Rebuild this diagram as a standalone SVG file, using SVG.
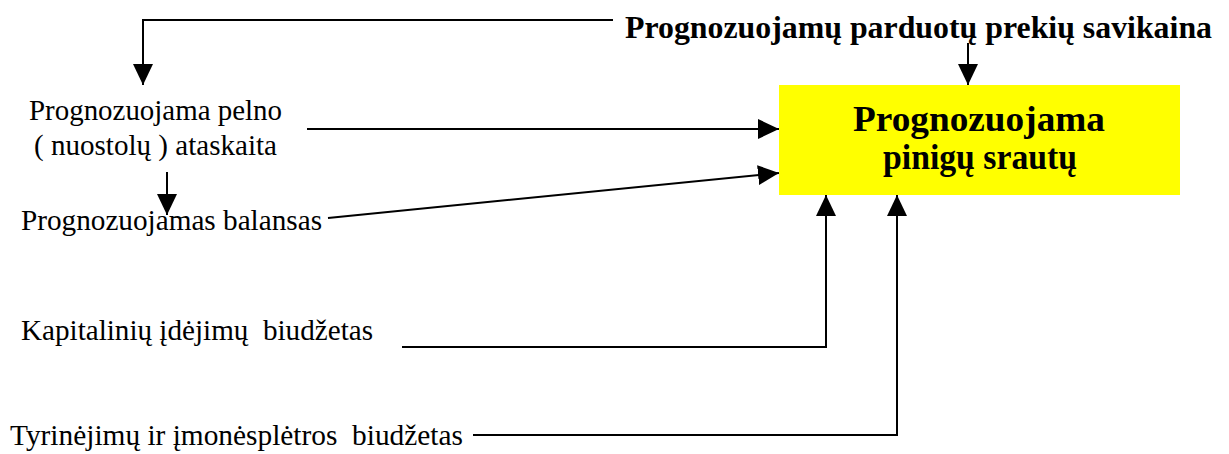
<svg xmlns="http://www.w3.org/2000/svg" width="1229" height="454" viewBox="0 0 1229 454">
  <style>
    text { font-family: 'Liberation Serif', Tinos, 'Nimbus Roman', 'Times New Roman', Times, serif; fill: #000; white-space: pre; }
    .lbl { font-size: 29px; }
    .bold { font-weight: bold; }
    .conn { fill: none; stroke: #000; stroke-width: 2; }
  </style>
  <defs>
    <marker id="arrow" viewBox="0 0 21 20" refX="21" refY="10" markerWidth="21" markerHeight="20" markerUnits="userSpaceOnUse" orient="auto">
      <path d="M0,0 L21,10 L0,20 z" fill="#000"/>
    </marker>
  </defs>

  <rect width="1229" height="454" fill="#fff"/>

  <!-- Central node: cash flow forecast -->
  <g id="node-cashflow">
    <rect x="779" y="85" width="401" height="110" fill="#ffff00"/>
    <text class="bold" x="979" y="131" font-size="36" text-anchor="middle" textLength="252" lengthAdjust="spacingAndGlyphs">Prognozuojama</text>
    <text class="bold" x="980" y="169" font-size="36" text-anchor="middle" textLength="194" lengthAdjust="spacingAndGlyphs">pinigų srautų</text>
  </g>

  <!-- Input nodes -->
  <g id="node-cogs">
    <text class="bold" x="625" y="38" font-size="31" textLength="587" lengthAdjust="spacingAndGlyphs">Prognozuojamų parduotų prekių savikaina</text>
  </g>
  <g id="node-income">
    <text class="lbl" x="29" y="120" textLength="253" lengthAdjust="spacingAndGlyphs">Prognozuojama pelno</text>
    <text class="lbl" x="34" y="155" textLength="243" lengthAdjust="spacingAndGlyphs">( nuostolų ) ataskaita</text>
  </g>
  <g id="node-balance">
    <text class="lbl" x="21" y="230" textLength="301" lengthAdjust="spacingAndGlyphs">Prognozuojamas balansas</text>
  </g>
  <g id="node-capex">
    <text class="lbl" x="21" y="340" textLength="352" lengthAdjust="spacingAndGlyphs" xml:space="preserve">Kapitalinių įdėjimų  biudžetas</text>
  </g>
  <g id="node-rnd">
    <text class="lbl" x="10" y="445" textLength="453" lengthAdjust="spacingAndGlyphs" xml:space="preserve">Tyrinėjimų ir įmonėsplėtros  biudžetas</text>
  </g>

  <!-- Connectors -->
  <g id="connectors">
    <polyline class="conn" points="613,20 143,20 143,85" marker-end="url(#arrow)"/>
    <line class="conn" x1="968" y1="43" x2="968" y2="85" marker-end="url(#arrow)"/>
    <line class="conn" x1="307" y1="129" x2="779" y2="129" marker-end="url(#arrow)"/>
    <line class="conn" x1="167" y1="172" x2="167" y2="215" marker-end="url(#arrow)"/>
    <line class="conn" x1="328" y1="218" x2="779" y2="173" marker-end="url(#arrow)"/>
    <polyline class="conn" points="402,347 826,347 826,195" marker-end="url(#arrow)"/>
    <polyline class="conn" points="473,435 897,435 897,195" marker-end="url(#arrow)"/>
  </g>
</svg>
